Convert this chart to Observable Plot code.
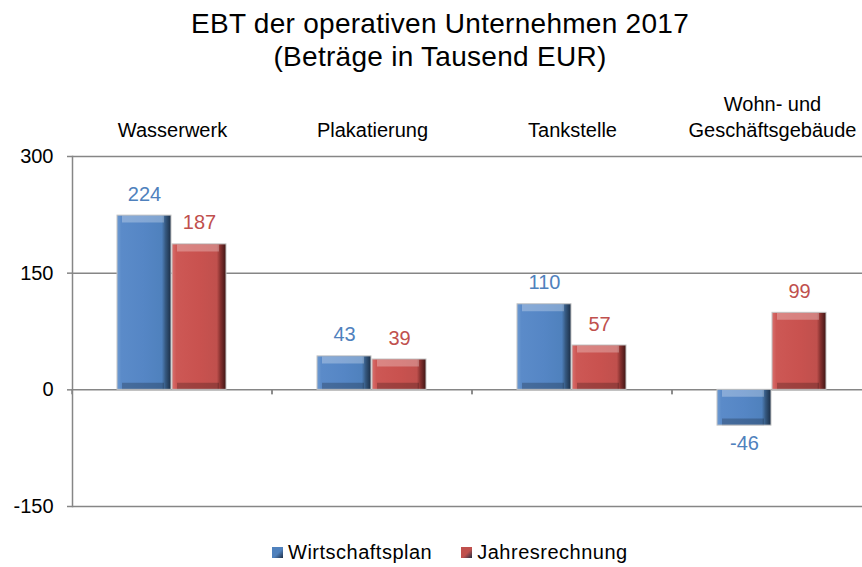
<!DOCTYPE html>
<html>
<head>
<meta charset="utf-8">
<script src="https://cdn.jsdelivr.net/npm/d3@7"></script>
<script src="https://cdn.jsdelivr.net/npm/@observablehq/plot@0.6"></script>
<style>
  html, body { margin: 0; padding: 0; background: white; overflow: hidden; }
  body { position: relative; width: 862px; height: 567px; font-family: "Liberation Sans", Arial, sans-serif; color: #000; }
  #title { position: absolute; top: 7px; left: 18px; width: 844px; text-align: center; font-size: 28px; line-height: 33px; letter-spacing: 0.28px; }
  #chart { position: absolute; top: 80px; left: 0; }
  #legend { position: absolute; top: 542px; left: 272px; display: flex; align-items: center; font-size: 20px; line-height: 20px; white-space: nowrap; letter-spacing: 0.5px; }
  .sw { width: 11px; height: 11px; display: inline-block; margin-right: 5px; }
  .item { display: flex; align-items: center; }
</style>
</head>
<body>
<div id="title">EBT der operativen Unternehmen 2017<br>(Beträge in Tausend EUR)</div>
<div id="chart"></div>
<div id="legend"></div>
<script>
// ---- data ----
const categories = ["Wasserwerk", "Plakatierung", "Tankstelle", "Wohn- und Geschäftsgebäude"];
const categoryLabels = ["Wasserwerk", "Plakatierung", "Tankstelle", "Wohn- und\nGeschäftsgebäude"];
const seriesNames = ["Wirtschaftsplan", "Jahresrechnung"];
const wirtschaftsplan = [224, 43, 110, -46];
const jahresrechnung = [187, 39, 57, 99];
const yTicks = [-150, 0, 150, 300];

const seriesColors = {"Wirtschaftsplan": "#4F81BD", "Jahresrechnung": "#C0504D"};
const seriesGradients = {"Wirtschaftsplan": "url(#gBlue)", "Jahresrechnung": "url(#gRed)"};

const data = [];
categories.forEach((c, i) => {
  data.push({cat: c, series: seriesNames[0], value: wirtschaftsplan[i]});
  data.push({cat: c, series: seriesNames[1], value: jahresrechnung[i]});
});
const labelOf = new Map(categories.map((c, i) => [c, categoryLabels[i]]));

// ---- gradient defs for the bevelled bars ----
const defs = d3.select("body").append("svg").attr("width", 0).attr("height", 0)
  .style("position", "absolute").append("defs");
function hGrad(id, stops) {
  const g = defs.append("linearGradient").attr("id", id).attr("x1", 0).attr("x2", 1).attr("y1", 0).attr("y2", 0);
  stops.forEach(([o, c]) => g.append("stop").attr("offset", o).attr("stop-color", c));
}
hGrad("gBlue", [[0, "#6f9bd2"], [0.08, "#5b8bc9"], [0.5, "#5586c5"], [0.83, "#4f81bd"], [0.9, "#35587f"], [1, "#1a2d45"]]);
hGrad("gRed", [[0, "#d9706e"], [0.08, "#cd5855"], [0.5, "#c9524f"], [0.83, "#c0504d"], [0.9, "#83302e"], [1, "#3e1514"]]);

const grey = "#868686";
const barTop = d => Math.max(d.value, 0);
const barBottom = d => Math.min(d.value, 0);

const chart = Plot.plot({
  width: 862,
  height: 436,
  marginTop: 76,
  marginBottom: 10,
  marginLeft: 72,
  marginRight: -10,
  style: {fontFamily: "Liberation Sans, Arial, sans-serif", fontSize: "20px", color: "#000", background: "white"},
  fx: {domain: categories, padding: 0, axis: null},
  x: {domain: seriesNames, paddingInner: 0.018, paddingOuter: 0.827, axis: null},
  y: {domain: [-150, 300], ticks: yTicks, axis: null},
  marks: [
    Plot.ruleY(yTicks, {stroke: grey, strokeWidth: 1.5}),
    Plot.frame({anchor: "left", facet: "super", stroke: grey, strokeWidth: 1.5}),
    (index, scales, values, dimensions) => {
      const g = d3.create("svg:g");
      const r = scales.x.range();
      const y0 = scales.y(0);
      for (const x of r) {
        g.append("line").attr("x1", x).attr("x2", x).attr("y1", y0).attr("y2", y0 + 5)
          .attr("stroke", grey).attr("stroke-width", 1.5);
      }
      return g.node();
    },
    Plot.axisY({ticks: yTicks, tickSize: 5, tickPadding: 14, stroke: grey, strokeWidth: 1.5, fontSize: 20, label: null, tickFormat: d => String(d)}),
    Plot.axisFx({anchor: "top", tickSize: 0, tickPadding: 20, fontSize: 20, lineHeight: 1.3, label: null, tickFormat: c => labelOf.get(c)}),
    ...seriesNames.map(s => Plot.barY(data.filter(d => d.series === s), {fx: "cat", x: "series", y: "value", fill: seriesGradients[s]})),
    // bevel: light strip along the top edge, dark strip along the bottom edge
    Plot.tickY(data, {fx: "cat", x: "series", y: barTop, stroke: "white", strokeOpacity: 0.28, strokeWidth: 7, dy: 3.5, insetLeft: 5, insetRight: 7}),
    Plot.tickY(data, {fx: "cat", x: "series", y: barBottom, stroke: "black", strokeOpacity: 0.22, strokeWidth: 7, dy: -3.5, insetLeft: 5, insetRight: 7}),
    Plot.barY(data, {fx: "cat", x: "series", y: "value", fill: "none", stroke: "#c4c4c4", strokeWidth: 1}),
    ...seriesNames.map(s => Plot.text(data.filter(d => d.series === s && d.value >= 0),
      {fx: "cat", x: "series", y: "value", text: d => String(d.value), fill: seriesColors[s], fontSize: 20, lineAnchor: "bottom", dy: -15})),
    ...seriesNames.map(s => Plot.text(data.filter(d => d.series === s && d.value < 0),
      {fx: "cat", x: "series", y: "value", text: d => String(d.value), fill: seriesColors[s], fontSize: 20, lineAnchor: "top", dy: 10}))
  ]
});
document.getElementById("chart").appendChild(chart);

// ---- legend ----
const legend = d3.select("#legend");
seriesNames.forEach((s, i) => {
  const item = legend.append("div").attr("class", "item").style("margin-right", i === 0 ? "29px" : "0px");
  item.append("span").attr("class", "sw").style("background", `linear-gradient(135deg, ${seriesColors[s]} 0%, ${seriesColors[s]} 55%, #1f2f45 100%)`);
  item.append("span").text(s);
});
</script>
</body>
</html>
